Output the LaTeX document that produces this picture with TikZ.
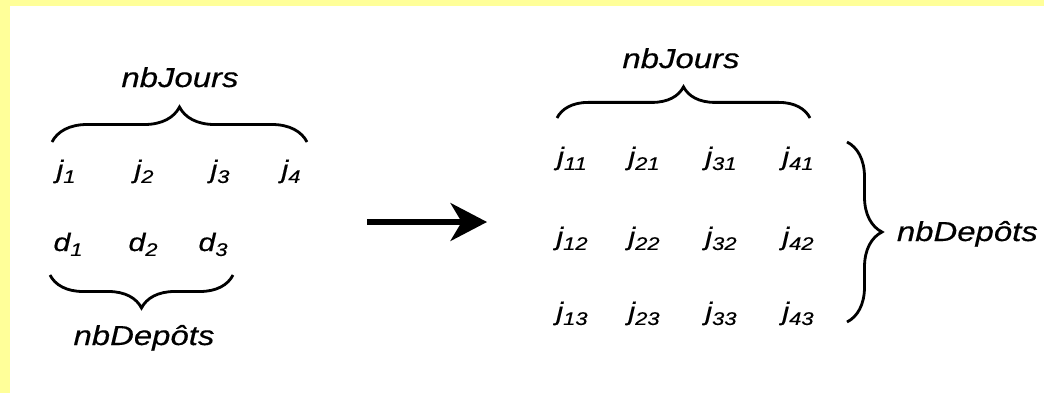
\documentclass[tikz,border=0pt]{standalone}
\usepackage{fontspec}
\setmainfont{Liberation Sans}[FakeStretch=1.2,FakeBold=0.4]
\usetikzlibrary{decorations.pathreplacing,arrows.meta}
\definecolor{cadre}{HTML}{FFFF99}
\newcommand{\ind}[2]{#1\raisebox{-3.5pt}{\fontsize{13}{13}\selectfont#2}}
\tikzset{
  accolade/.style={decorate,decoration={brace,amplitude=#1},line width=2pt},
  titre/.style={font=\fontsize{19.5}{20}\selectfont\itshape,anchor=base},
  var/.style={font=\fontsize{18}{18}\selectfont\itshape,anchor=base},
}
\begin{document}
\begin{tikzpicture}
\useasboundingbox (0,0) rectangle (26.1,9.8);
\fill[cadre] (0,-0.5) rectangle (26.1,9.8);
\fill[white] (0.25,-0.5) rectangle (26.1,9.65);

\node[titre] (jours1) at (4.5,7.625) {nbJours};
\coordinate (hg) at (1.3,6.25);
\coordinate (hd) at (7.675,6.25);
\draw[accolade=0.875cm] (hg) -- (hd);
\foreach \x/\i in {1.65/1,3.6/2,5.5/3,7.275/4}
  \node[var] (j\i) at (\x,5.35) {\ind{j}{\i}};
\foreach \x/\i in {1.7/1,3.575/2,5.325/3}
  \node[var] (d\i) at (\x,3.525) {\ind{d}{\i}};
\coordinate (bd) at (5.825,2.925);
\coordinate (bg) at (1.25,2.925);
\draw[accolade=0.825cm] (bd) -- (bg);
\node[titre] (depots1) at (3.6,1.175) {nbDepôts};

\coordinate (a) at (9.175,4.25);
\coordinate (b) at (12.175,4.25);
\draw[line width=3.6pt,-{Stealth[length=26pt,width=27pt,inset=8pt]}] (a) -- (b);

\node[titre] (jours2) at (17.025,8.1) {nbJours};
\coordinate (hg2) at (13.925,6.85);
\coordinate (hd2) at (20.25,6.85);
\draw[accolade=0.78cm] (hg2) -- (hd2);
\foreach \y/\r in {5.675/1,3.675/2,1.8/3}
  \foreach \x/\c in {14.3/1,16.1/2,18.025/3,19.95/4}
    \node[var] (j\c\r) at (\x,\y) {\ind{j}{\c\r}};
\coordinate (dh) at (21.175,6.25);
\coordinate (db) at (21.175,1.75);
\draw[accolade=0.875cm] (dh) -- (db);
\node[titre,anchor=base west] (depots2) at (22.3,3.775) {nbDepôts};
\end{tikzpicture}
\end{document}
